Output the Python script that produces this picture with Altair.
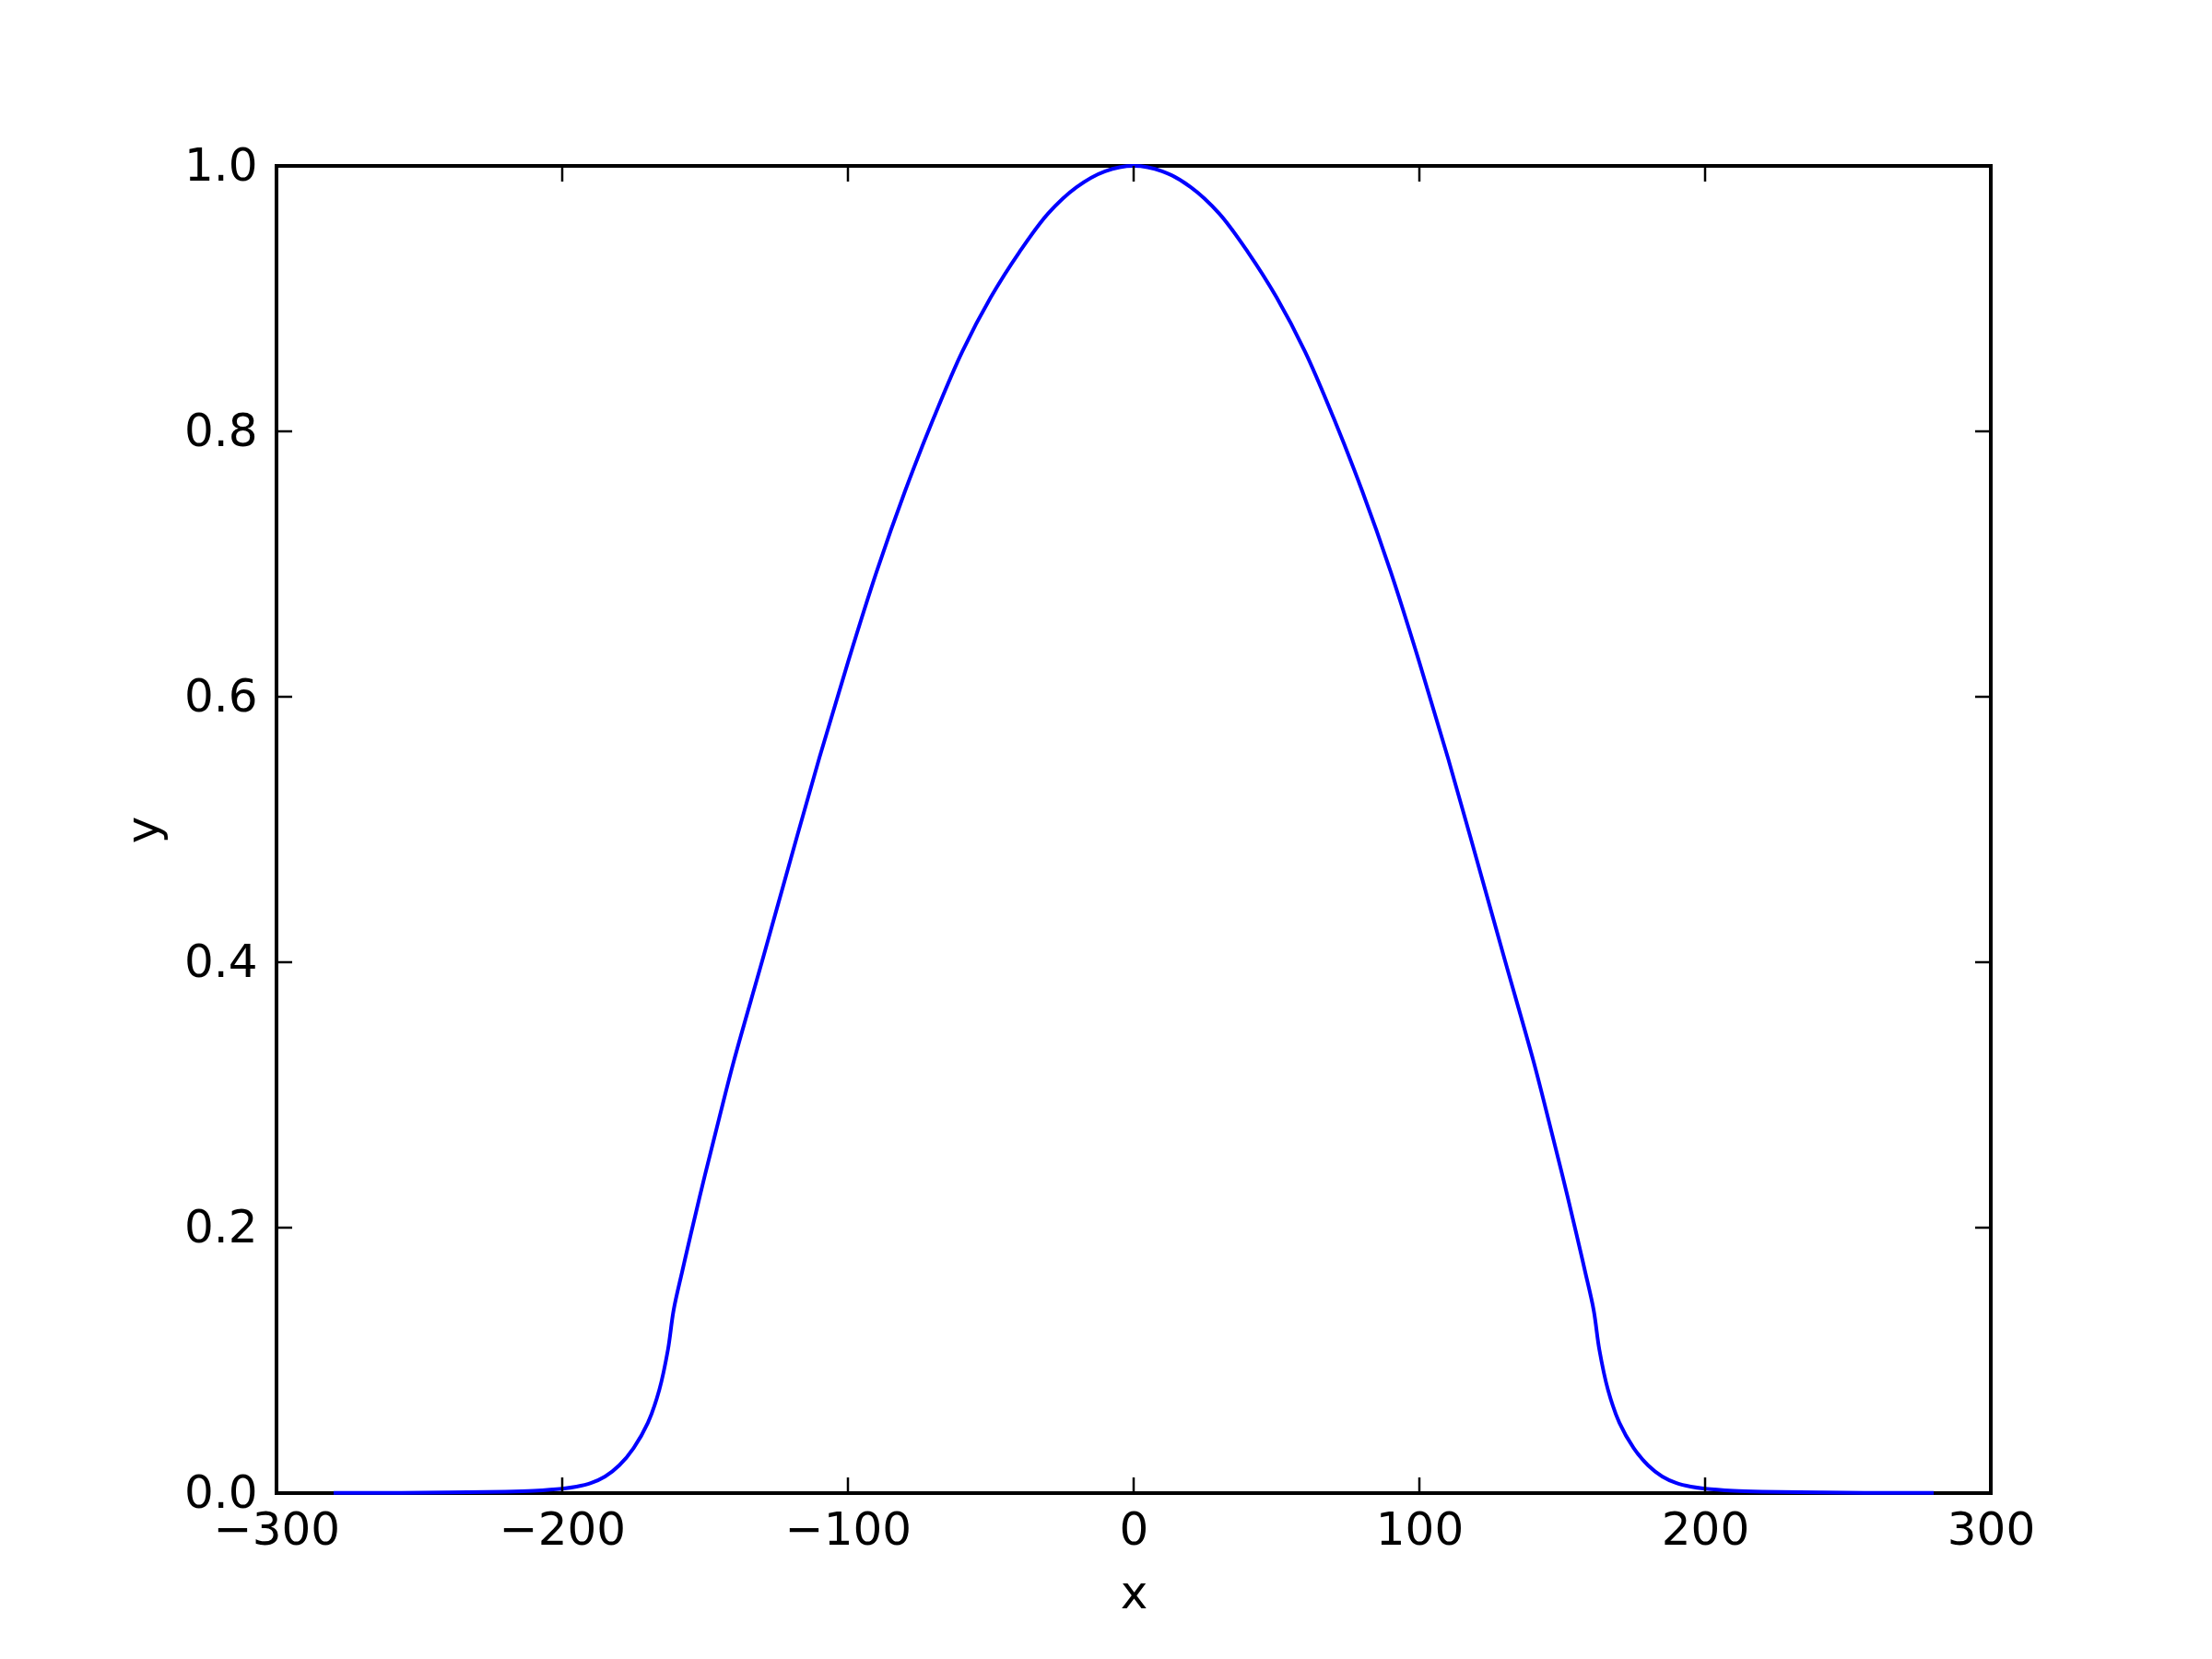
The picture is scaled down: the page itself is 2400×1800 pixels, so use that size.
import altair as alt
import pandas as pd

# Curve values
X_VALUES = [-280, -260, -240, -220, -210, -200, -195, -190, -185, -180, -175, -170,
            -166, -163, -161, -158, -155, -150, -145, -140, -130, -120, -110, -100,
            -90, -80, -70, -60, -50, -40, -30, -20, -10, 0,
            10, 20, 30, 40, 50, 60, 70, 80, 90, 100, 110, 120, 130, 140, 145, 150,
            155, 158, 161, 163, 166, 170, 175, 180, 185, 190, 195, 200, 210, 220,
            240, 260, 280]
Y_VALUES = [0.0001, 0.0002, 0.0005, 0.0011, 0.0018, 0.0033, 0.0048, 0.0075, 0.0125, 0.021,
            0.034, 0.053, 0.078, 0.108, 0.138, 0.167, 0.195, 0.240, 0.283, 0.325,
            0.401, 0.478, 0.554, 0.626, 0.694, 0.755, 0.810, 0.860, 0.901, 0.935,
            0.964, 0.984, 0.996, 1.000,
            0.996, 0.984, 0.964, 0.935, 0.901, 0.860, 0.810, 0.755, 0.694, 0.626,
            0.554, 0.478, 0.401, 0.325, 0.283, 0.240, 0.195, 0.167, 0.138, 0.108,
            0.078, 0.053, 0.034, 0.021, 0.0125, 0.0075, 0.0048, 0.0033, 0.0018, 0.0011,
            0.0005, 0.0002, 0.0001]

X_TICKS = [-300, -200, -100, 0, 100, 200, 300]
Y_TICKS = [0.0, 0.2, 0.4, 0.6, 0.8, 1.0]

W, H = 1860, 1440
TICK_LEN = 17

curve = pd.DataFrame({"x": X_VALUES, "y": Y_VALUES})
xt = pd.DataFrame({"x": X_TICKS})
yt = pd.DataFrame({"y": Y_TICKS})

xscale = alt.Scale(domain=[-300, 300], nice=False, zero=False)
yscale = alt.Scale(domain=[0, 1], nice=False, zero=False)

line = alt.Chart(curve).mark_line(color="#0000ff", strokeWidth=4, interpolate="catmull-rom").encode(
    x=alt.X("x:Q", scale=xscale,
            axis=alt.Axis(values=X_TICKS, format="d", title="x", labelPadding=15,
                          titlePadding=19, labelFlush=False)),
    y=alt.Y("y:Q", scale=yscale,
            axis=alt.Axis(values=Y_TICKS, format=".1f", title="y", labelPadding=21,
                          titlePadding=18)),
)

tick_style = dict(color="black", strokeWidth=2.5)

bottom_ticks = alt.Chart(xt).mark_rule(**tick_style).encode(
    x=alt.X("x:Q", scale=xscale), y=alt.value(H), y2=alt.value(H - TICK_LEN))
top_ticks = alt.Chart(xt).mark_rule(**tick_style).encode(
    x=alt.X("x:Q", scale=xscale), y=alt.value(0), y2=alt.value(TICK_LEN))
left_ticks = alt.Chart(yt).mark_rule(**tick_style).encode(
    y=alt.Y("y:Q", scale=yscale), x=alt.value(0), x2=alt.value(TICK_LEN))
right_ticks = alt.Chart(yt).mark_rule(**tick_style).encode(
    y=alt.Y("y:Q", scale=yscale), x=alt.value(W), x2=alt.value(W - TICK_LEN))

chart = alt.layer(line, bottom_ticks, top_ticks, left_ticks, right_ticks).properties(
    width=W, height=H,
    autosize=alt.AutoSizeParams(type="none"),
    padding={"left": 292, "top": 172, "right": 232, "bottom": 172},
    background="white",
).configure_view(
    stroke="black", strokeWidth=4
).configure_axis(
    labelFont="DejaVu Sans", labelFontSize=50, labelColor="black",
    titleFont="DejaVu Sans", titleFontSize=50, titleFontWeight="normal", titleColor="black",
    grid=False, domain=False, ticks=False,
)

chart.save("out.html", embed_options={"renderer": "svg", "actions": False})
